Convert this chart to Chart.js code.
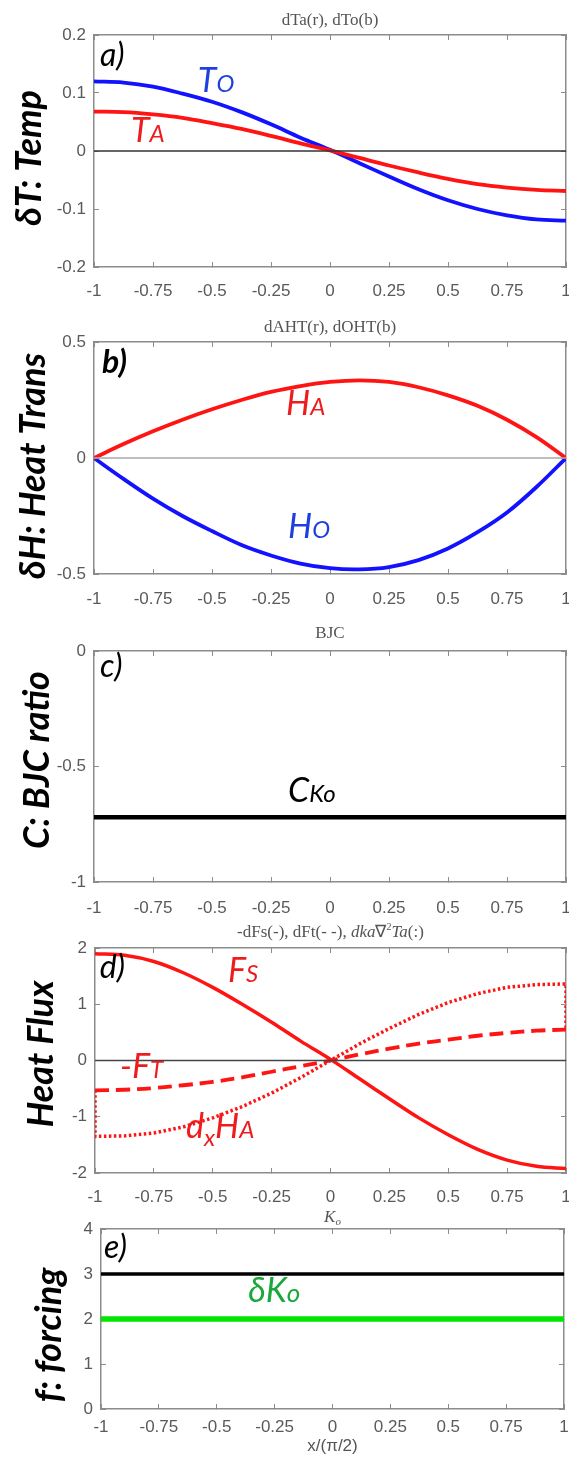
<!DOCTYPE html>
<html>
<head>
<meta charset="utf-8">
<script src="https://cdn.jsdelivr.net/npm/chart.js@4.4.1/dist/chart.umd.min.js"></script>
<style>
  html, body { margin: 0; padding: 0; background: #fff; }
  #page { position: relative; width: 569px; height: 1458px; overflow: hidden; background: #fff; }
  .panel { position: absolute; left: 0; }
</style>
</head>
<body>
<div id="page"></div>
<script>
// x positions, in units of x/(pi/2)
const xs = [-1, -0.875, -0.75, -0.625, -0.5, -0.375, -0.25, -0.125, 0, 0.125, 0.25, 0.375, 0.5, 0.625, 0.75, 0.875, 1];
const xEnds = [-1, 1];
const xTicks = [-1, -0.75, -0.5, -0.25, 0, 0.25, 0.5, 0.75, 1];

// a) temperature
const tempOcean = [0.120, 0.118, 0.111, 0.099, 0.085, 0.067, 0.046, 0.023, 0.002, -0.021, -0.044, -0.066, -0.085, -0.100, -0.111, -0.118, -0.120];
const tempAtmos = [0.068, 0.067, 0.063, 0.057, 0.048, 0.038, 0.026, 0.013, 0.001, -0.012, -0.025, -0.037, -0.048, -0.057, -0.063, -0.067, -0.069];
const yTicksTemp = [-0.2, -0.1, 0, 0.1, 0.2];

// b) heat transport
const heatAtmos = [0, 0.06, 0.115, 0.165, 0.21, 0.25, 0.285, 0.31, 0.328, 0.335, 0.328, 0.305, 0.27, 0.225, 0.165, 0.09, 0];
const heatOcean = [0, -0.09, -0.175, -0.25, -0.315, -0.375, -0.42, -0.455, -0.475, -0.48, -0.47, -0.44, -0.39, -0.32, -0.235, -0.125, 0];
const yTicksHeat = [-0.5, 0, 0.5];

// c) BJC ratio
const bjcRatio = [-0.72, -0.72];
const yTicksBjc = [-1, -0.5, 0];

// d) heat flux
const fluxSurface = [1.90, 1.87, 1.76, 1.56, 1.30, 1.00, 0.68, 0.34, 0.02, -0.33, -0.68, -1.02, -1.32, -1.58, -1.77, -1.88, -1.92];
const fluxTransport = [-0.53, -0.52, -0.49, -0.44, -0.38, -0.30, -0.20, -0.10, 0.0, 0.11, 0.21, 0.30, 0.37, 0.44, 0.49, 0.53, 0.55];
const xsDiv = [-1, -1, -0.875, -0.75, -0.625, -0.5, -0.375, -0.25, -0.125, 0, 0.125, 0.25, 0.375, 0.5, 0.625, 0.75, 0.875, 1, 1];
const fluxDivergence = [-0.53, -1.35, -1.34, -1.29, -1.18, -1.02, -0.82, -0.58, -0.30, 0.0, 0.30, 0.57, 0.82, 1.03, 1.19, 1.30, 1.35, 1.36, 0.55];
const yTicksFlux = [-2, -1, 0, 1, 2];

// e) forcing
const forcingBase = [3, 3];
const forcingDelta = [2, 2];
const yTicksForcing = [0, 1, 2, 3, 4];

const zeroLine = [0, 0];

const AXIS = '#8c8c8c';
const TICK_TEXT = '#5a5a5a';
const RED = '#ff1414';
const BLUE = '#1212ff';
const LABEL_FONT = "Lato, 'Open Sans', sans-serif";

function pts(xv, yv) {
  return xv.map((x, i) => ({ x: x, y: yv[i] }));
}

function line(data, color, width, dash, tension) {
  return {
    data: data,
    borderColor: color,
    borderWidth: width,
    borderDash: dash || [],
    tension: tension === undefined ? 0.35 : tension,
    pointRadius: 0,
    fill: false
  };
}

function fontStr(p) {
  return (p.style || 'italic') + ' ' + (p.weight || 'normal') + ' ' + p.size + 'px ' + (p.family || LABEL_FONT);
}

function drawParts(ctx, parts, x, y, align, color) {
  let total = 0;
  parts.forEach(p => { ctx.font = fontStr(p); total += ctx.measureText(p.t).width; });
  let cx = align === 'center' ? x - total / 2 : x;
  ctx.fillStyle = color;
  ctx.textAlign = 'left';
  ctx.textBaseline = 'alphabetic';
  parts.forEach(p => {
    ctx.font = fontStr(p);
    ctx.fillText(p.t, cx, y + (p.dy || 0));
    cx += ctx.measureText(p.t).width;
  });
}

const notesPlugin = {
  id: 'notes',
  afterDatasetsDraw(chart, args, opts) {
    const { ctx, chartArea, scales } = chart;
    ctx.save();
    if (opts.title) {
      drawParts(ctx, opts.title, (chartArea.left + chartArea.right) / 2, chartArea.top - opts.titleGap, 'center', '#555');
    }
    if (opts.side) {
      ctx.save();
      ctx.translate(opts.side.x, opts.side.y - opts.canvasTop);
      ctx.rotate(-Math.PI / 2);
      ctx.font = 'italic bold 36px ' + LABEL_FONT;
      ctx.fillStyle = '#000';
      ctx.textAlign = 'center';
      ctx.textBaseline = 'middle';
      ctx.fillText(opts.side.text, 0, 0);
      ctx.restore();
    }
    (opts.labels || []).forEach(l => {
      drawParts(ctx, l.parts, scales.x.getPixelForValue(l.x), scales.y.getPixelForValue(l.y), 'left', l.color);
    });
    ctx.restore();
  }
};

// keep the plot box exactly where the reference has it
function noSidePadding(s) {
  s.paddingLeft = 0;
  s.paddingRight = 0;
  s.paddingTop = 0;
  s.paddingBottom = 0;
}

function axisX(position, extra) {
  return Object.assign({
    type: 'linear', axis: 'x', position: position, min: -1, max: 1,
    afterBuildTicks: s => { s.ticks = xTicks.map(v => ({ value: v })); },
    border: { display: true, color: AXIS, width: 1.5 },
    grid: { display: true, drawOnChartArea: false, drawTicks: true, tickLength: -5, color: AXIS, lineWidth: 1 },
    ticks: { display: false, autoSkip: false, maxRotation: 0 }
  }, extra || {});
}

function axisY(position, p, extra) {
  return Object.assign({
    type: 'linear', axis: 'y', position: position, min: p.yTicks[0], max: p.yTicks[p.yTicks.length - 1],
    afterBuildTicks: s => { s.ticks = p.yTicks.map(v => ({ value: v })); },
    border: { display: true, color: AXIS, width: 1.5 },
    grid: { display: true, drawOnChartArea: false, drawTicks: true, tickLength: -5, color: AXIS, lineWidth: 1 },
    ticks: { display: false, autoSkip: false }
  }, extra || {});
}

function buildPanel(p) {
  const cv = document.createElement('canvas');
  const canvasTop = p.top - 35;
  const plotH = p.bottom - p.top;
  const h = plotH + 35 + p.below;
  cv.width = 569;
  cv.height = h;
  cv.className = 'panel';
  cv.style.top = canvasTop + 'px';
  cv.style.width = '569px';
  cv.style.height = h + 'px';
  document.getElementById('page').appendChild(cv);

  const tickFont = { family: "'Liberation Sans', Arial, sans-serif", size: 17 };

  new Chart(cv, {
    type: 'line',
    data: { datasets: p.datasets },
    options: {
      responsive: false,
      animation: false,
      devicePixelRatio: 1,
      layout: { padding: { top: 35, right: 569 - p.right, left: 0, bottom: 0 } },
      plugins: {
        legend: { display: false },
        tooltip: { enabled: false },
        notes: {
          title: p.title, titleGap: p.titleGap, side: p.side, canvasTop: canvasTop, labels: p.labels
        }
      },
      scales: {
        x: axisX('bottom', {
          afterFit: s => { s.height = h - 35 - plotH; noSidePadding(s); },
          ticks: {
            display: true, autoSkip: false, maxRotation: 0, color: TICK_TEXT, font: tickFont,
            padding: p.xLabelPad, callback: v => String(v)
          },
          title: p.xTitle ? {
            display: true, text: p.xTitle, color: '#555',
            font: { family: "'Liberation Sans', Arial, sans-serif", size: 17 },
            padding: { top: 0, bottom: 2 }
          } : { display: false }
        }),
        xTop: axisX('top', { afterFit: s => { s.height = 0; noSidePadding(s); } }),
        y: axisY('left', p, {
          afterFit: s => { s.width = p.left; noSidePadding(s); },
          ticks: {
            display: true, autoSkip: false, color: TICK_TEXT, font: tickFont,
            padding: 13, callback: v => String(v)
          }
        }),
        yRight: axisY('right', p, { afterFit: s => { s.width = 0; noSidePadding(s); } })
      }
    },
    plugins: [notesPlugin]
  });
}

const sub = (t, size, dy) => ({ t: t, size: size, dy: dy || 0 });

const panels = [
  {
    top: 35, bottom: 267, left: 94, right: 566, below: 40, xLabelPad: 19.5, yTicks: yTicksTemp,
    title: [{ t: 'dTa(r), dTo(b)', size: 17, style: 'normal', family: "'Liberation Serif', serif" }], titleGap: 10,
    side: { text: 'δT: Temp', x: 29, y: 158 },
    datasets: [
      line(pts(xEnds, zeroLine), '#333', 1.3, null, 0),
      line(pts(xs, tempAtmos), RED, 3.8),
      line(pts(xs, tempOcean), BLUE, 3.8)
    ],
    labels: [
      { parts: [sub('a)', 32)], x: -0.975, y: 0.147, color: '#000' },
      { parts: [sub('T', 34), sub('O', 24)], x: -0.56, y: 0.102, color: '#1f3fe0' },
      { parts: [sub('T', 34), sub('A', 24)], x: -0.843, y: 0.0155, color: '#ee1c1c' }
    ]
  },
  {
    top: 342, bottom: 574, left: 94, right: 566, below: 40, xLabelPad: 19.8, yTicks: yTicksHeat,
    title: [{ t: 'dAHT(r), dOHT(b)', size: 17, style: 'normal', family: "'Liberation Serif', serif" }], titleGap: 10,
    side: { text: 'δH: Heat Trans', x: 33, y: 466 },
    datasets: [
      line(pts(xEnds, zeroLine), '#a8a8a8', 1.5, null, 0),
      line(pts(xs, heatAtmos), RED, 3.8),
      line(pts(xs, heatOcean), BLUE, 3.8)
    ],
    labels: [
      { parts: [{ t: 'b)', size: 32, weight: 'bold' }], x: -0.966, y: 0.366, color: '#000' },
      { parts: [sub('H', 34), sub('A', 24)], x: -0.186, y: 0.185, color: '#ee1c1c' },
      { parts: [sub('H', 34), sub('O', 24)], x: -0.178, y: -0.345, color: '#1f3fe0' }
    ]
  },
  {
    top: 651, bottom: 882, left: 94, right: 566, below: 38, xLabelPad: 20.8, yTicks: yTicksBjc,
    title: [{ t: 'BJC', size: 17, style: 'normal', family: "'Liberation Serif', serif" }], titleGap: 13,
    side: { text: 'C: BJC ratio', x: 37, y: 760 },
    datasets: [
      line(pts(xEnds, bjcRatio), '#000', 4.5, null, 0)
    ],
    labels: [
      { parts: [sub('c)', 32)], x: -0.975, y: -0.113, color: '#000' },
      { parts: [sub('C', 34), sub('Ko', 24)], x: -0.178, y: -0.654, color: '#000' }
    ]
  },
  {
    top: 948, bottom: 1173, left: 95, right: 566, below: 40, xLabelPad: 18.8, yTicks: yTicksFlux,
    title: [
      { t: '-dFs(-), dFt(- -), ', size: 17, style: 'normal', family: "'Liberation Serif', serif" },
      { t: 'dka', size: 17, style: 'italic', family: "'Liberation Serif', serif" },
      { t: '∇', size: 17, style: 'normal', family: "'Liberation Serif', serif" },
      { t: '2', size: 10, style: 'normal', family: "'Liberation Serif', serif", dy: -7 },
      { t: 'Ta', size: 17, style: 'italic', family: "'Liberation Serif', serif" },
      { t: '(:)', size: 17, style: 'normal', family: "'Liberation Serif', serif" }
    ], titleGap: 11,
    side: { text: 'Heat Flux', x: 41, y: 1054 },
    datasets: [
      line(pts(xEnds, zeroLine), '#444', 1.3, null, 0),
      line(pts(xs, fluxSurface), RED, 3.5),
      line(pts(xs, fluxTransport), RED, 3.8, [14, 7]),
      line(pts(xsDiv, fluxDivergence), RED, 3.5, [2.5, 2.5], 0)
    ],
    labels: [
      { parts: [sub('d)', 32)], x: -0.98, y: 1.47, color: '#000' },
      { parts: [sub('F', 34), sub('S', 24)], x: -0.435, y: 1.40, color: '#ee1c1c' },
      { parts: [sub('-F', 34), sub('T', 24)], x: -0.894, y: -0.31, color: '#ee1c1c' },
      { parts: [sub('d', 34), sub('x', 24, 8), sub('H', 34), sub('A', 24)], x: -0.614, y: -1.38, color: '#ee1c1c' }
    ]
  },
  {
    top: 1229, bottom: 1409, left: 101, right: 564, below: 50, xLabelPad: 12.8, yTicks: yTicksForcing,
    title: [
      { t: 'K', size: 17, style: 'italic', family: "'Liberation Serif', serif" },
      { t: 'o', size: 11, style: 'italic', family: "'Liberation Serif', serif", dy: 3 }
    ], titleGap: 7,
    xTitle: 'x/(π/2)',
    side: { text: 'f: forcing', x: 49, y: 1335 },
    datasets: [
      line(pts(xEnds, forcingBase), '#000', 3.5, null, 0),
      line(pts(xEnds, forcingDelta), '#00e600', 5.5, null, 0)
    ],
    labels: [
      { parts: [sub('e)', 32)], x: -0.987, y: 3.36, color: '#000' },
      { parts: [sub('δK', 34), sub('o', 26)], x: -0.364, y: 2.38, color: '#1aa83a' }
    ]
  }
];

panels.forEach(buildPanel);
</script>
</body>
</html>
